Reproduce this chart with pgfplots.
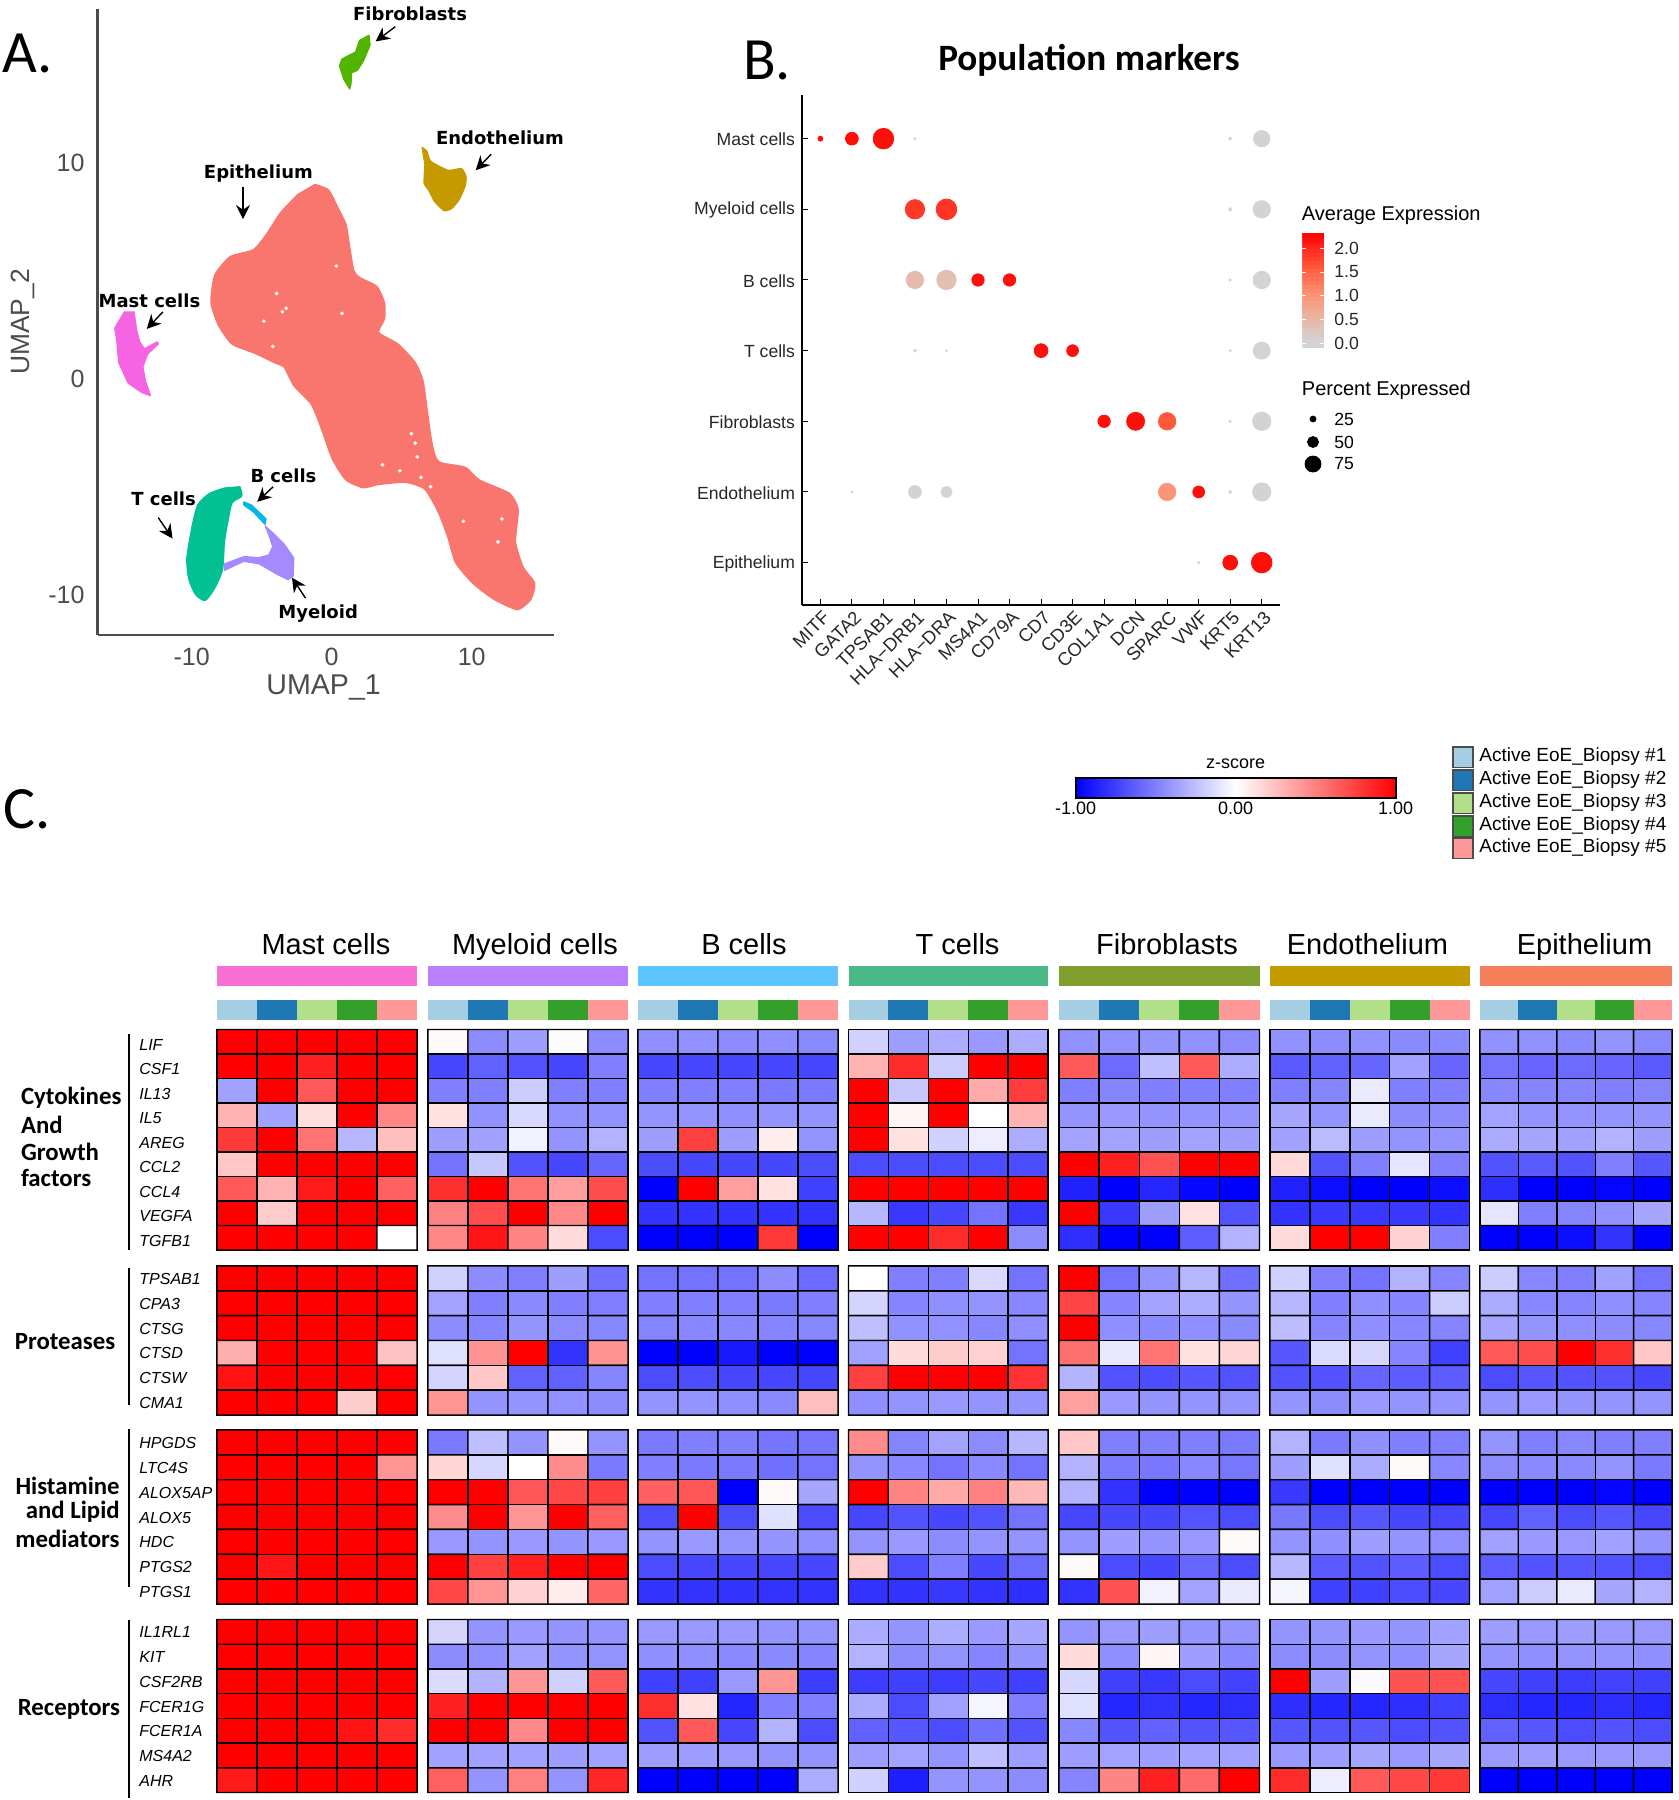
\documentclass[border=0pt]{standalone}
\usepackage{fontspec}
\usepackage{pgfplots}
\usetikzlibrary{arrows.meta}
\pgfplotsset{compat=1.18}
\setmainfont{Liberation Sans}
\newfontfamily\dejav{DejaVu Sans}
\newfontfamily\carl{Carlito}
\newcommand\fs[1]{\fontsize{#1}{#1}\selectfont}

\definecolor{cEpi}{HTML}{F8766D}
\definecolor{cMast}{HTML}{F564E3}
\definecolor{cFib}{HTML}{53B400}
\definecolor{cEnd}{HTML}{C49A00}
\definecolor{cT}{HTML}{00C094}
\definecolor{cB}{HTML}{00B6EB}
\definecolor{cMye}{HTML}{A58AFF}
\definecolor{bMast}{HTML}{F76FD2}
\definecolor{bMye}{HTML}{B880FF}
\definecolor{bB}{HTML}{5CC5FF}
\definecolor{bT}{HTML}{4AB887}
\definecolor{bFib}{HTML}{7F9E2B}
\definecolor{bEnd}{HTML}{C49A00}
\definecolor{bEpi}{HTML}{F47F5A}
\definecolor{s1}{HTML}{A6CEE3}
\definecolor{s2}{HTML}{1F78B4}
\definecolor{s3}{HTML}{B2DF8A}
\definecolor{s4}{HTML}{33A02C}
\definecolor{s5}{HTML}{FF9999}

\pgfplotsset{
  colormap={bwr}{rgb255(0cm)=(0,0,255); rgb255(1cm)=(255,255,255); rgb255(2cm)=(255,0,0)},
  colormap={dots}{rgb255(0cm)=(211,211,211); rgb255(15mm)=(211,211,211); rgb255(60mm)=(232,184,168); rgb255(110mm)=(250,150,120); rgb255(160mm)=(255,100,70); rgb255(242mm)=(255,0,0)},
}

% one heatmap block: x, y, width, height (px of the page), rows, values by row
\newcommand{\hmap}[6]{%
  \pgfmathsetmacro\ylo{0.5-#5}%
  \pgfmathsetmacro\wpt{#3*0.5}%
  \pgfmathsetmacro\hpt{#4*0.5}%
  \begin{axis}[at={(#1*0.5pt,-#2*0.5pt)},anchor=north west,scale only axis,
    width=\wpt pt,height=\hpt pt,xmin=-0.5,xmax=4.5,ymin=\ylo,ymax=0.5,
    ticks=none,clip=false,axis line style={line width=0.9pt},
    colormap name=bwr,point meta min=-1,point meta max=1]
  \addplot[matrix plot*,mesh/cols=5,point meta=explicit,draw=black,line width=0.7pt]
    table[row sep=\\,x expr={\coordindex-5*floor((\coordindex+0.5)/5)},y expr={-floor((\coordindex+0.5)/5)},meta=v]{v\\#6};
  \end{axis}}

% row names next to a block
\newcommand{\genes}[3]{%
  \foreach \g [count=\i from 0] in {#3}{%
    \node[anchor=west,inner sep=0pt,font=\fs{8}\itshape] at (139,#1+\i*#2+#2/2+3) {\g};}}

\begin{document}
\begin{tikzpicture}
\path[use as bounding box] (0,0) rectangle (839pt,-900pt);

% ---------- A: UMAP
\begin{axis}[at={(97.5*0.5pt,-635*0.5pt)},anchor=south west,scale only axis,
  width=228.4pt,height=313pt,
  xmin=-16.72,xmax=15.9,ymin=-11.86,ymax=17.1,
  axis lines*=left,axis line style={draw=black!70,line width=1pt},
  xtick={-10,0,10},ytick={-10,0,10},major tick length=0pt,
  tick label style={font=\fs{12.5},text=black!70},
  xticklabel style={yshift=-3pt},yticklabel style={xshift=-3pt},
  /pgf/number format/assume math mode=true,
  xlabel={UMAP\_1},ylabel={UMAP\_2},
  xlabel style={font=\fs{14.3},text=black!70,at={(rel axis cs:0.495,-0.084)},anchor=center},
  ylabel style={font=\fs{13.2},text=black!70,at={(rel axis cs:-0.163,0.5)},anchor=center,rotate=0},
  clip=false]
\addplot[fill=cEpi,draw=cEpi,line width=0.8pt,line join=round,smooth,tension=0.35] coordinates {
(-1.18,8.98)(-0.22,8.72)(0.47,7.87)(1.02,7.13)(1.29,6.06)(1.57,5.0)(1.98,4.68)(3.22,4.26)(3.77,3.51)(3.77,2.77)
(3.36,2.13)(4.73,1.6)(5.97,0.74)(6.52,-0.11)(6.8,-1.38)(7.07,-2.66)(7.35,-3.51)(7.76,-3.89)(9.55,-4.11)(10.51,-4.68)
(12.71,-5.32)(13.31,-6.06)(13.12,-7.55)(13.67,-8.72)(14.5,-9.47)(14.22,-10.21)(13.26,-10.68)(11.61,-10.21)(10.1,-9.47)(8.86,-8.51)
(8.31,-7.34)(7.62,-6.17)(6.66,-5.11)(5.28,-4.79)(3.36,-4.89)(2.26,-5.04)(1.02,-4.68)(0.06,-3.72)(-0.77,-2.23)(-1.46,-1.17)
(-2.7,-0.32)(-3.38,0.53)(-4.07,0.74)(-5.45,1.17)(-7.1,1.6)(-8.06,2.45)(-8.61,3.51)(-8.34,4.79)(-7.24,5.64)(-5.58,5.96)
(-4.62,6.7)(-3.66,7.66)(-2.42,8.51)} -- cycle;
\addplot[only marks,mark=*,mark size=0.7pt,white,draw=white] coordinates {
(-3.52,3.09)(-3.25,3.26)(-3.93,3.94)(-4.84,2.66)(0.33,5.21)(0.74,3.02)(5.69,-2.55)(5.97,-2.98)(6.11,-3.62)(4.87,-4.26)
(6.38,-4.57)(7.07,-5)(3.63,-3.98)(12.16,-6.49)(11.88,-7.55)(9.41,-6.6)(-4.21,1.49)};
\addplot[fill=cMast,draw=cMast,line width=0.6pt,line join=round] coordinates {
(-14.8,3.09)(-14.11,3.09)(-13.92,2.23)(-13.7,1.7)(-13.37,1.38)(-12.46,1.7)(-12.38,1.6)(-13.15,1.13)(-13.48,0.53)(-13.29,-0.11)
(-12.93,-0.79)(-13.56,-0.64)(-14.53,-0.21)(-15.21,0.74)(-15.35,1.81)(-15.49,2.34)} -- cycle;
\addplot[fill=cFib,draw=cFib,line width=0.6pt,line join=round] coordinates {
(2.67,15.89)(2.75,15.43)(2.26,14.68)(1.84,14.26)(1.43,14.15)(1.38,13.62)(1.29,13.4)(0.88,13.83)(0.55,14.47)(0.74,14.79)(1.71,15.11)(1.98,15.64)} -- cycle;
\addplot[fill=cEnd,draw=cEnd,line width=0.6pt,line join=round,smooth,tension=0.3] coordinates {
(6.46,10.7)(6.8,10.53)(7.07,10.06)(8.31,9.64)(9.27,9.72)(9.6,9.36)(9.55,8.94)(9.13,8.3)(8.58,7.87)(8.03,7.77)(7.35,8.19)(6.93,8.72)(6.6,9.04)(6.66,9.89)} -- cycle;
\addplot[fill=cT,draw=cT,line width=0.6pt,line join=round,smooth,tension=0.4] coordinates {
(-6.55,-5.0)(-6.41,-5.43)(-7.1,-5.74)(-7.37,-6.49)(-7.65,-7.55)(-7.79,-8.83)(-8.34,-9.68)(-9.02,-10.26)(-9.71,-10.0)(-10.21,-9.26)
(-10.34,-8.3)(-9.99,-6.91)(-9.57,-5.85)(-8.75,-5.32)(-7.65,-5.06)} -- cycle;
\addplot[fill=cMye,draw=cMye,line width=0.6pt,line join=round] coordinates {
(-4.76,-6.81)(-4.21,-7.13)(-3.38,-7.66)(-2.7,-8.3)(-2.75,-9.15)(-3.11,-9.3)(-3.93,-9.04)(-5.17,-8.57)(-6.27,-8.45)(-7.65,-8.87)
(-7.65,-8.57)(-6.27,-8.23)(-5.17,-8.28)(-4.48,-8.15)(-4.21,-7.77)(-4.48,-7.23)} -- cycle;
\addplot[fill=cB,draw=cB,line width=0.6pt,line join=round] coordinates {
(-6.27,-5.7)(-5.72,-5.85)(-4.68,-6.49)(-4.76,-6.74)(-5.58,-6.17)(-6.27,-5.85)} -- cycle;
\begin{scope}[font=\dejav\bfseries\fs{9},-{Stealth[length=7pt,width=7pt]},line width=0.7pt]
\node at (axis cs:5.6,16.87) {Fibroblasts};
\draw (axis cs:4.54,16.28) -- (axis cs:3.14,15.6);
\node at (axis cs:12.02,11.13) {Endothelium};
\draw (axis cs:11.39,10.38) -- (axis cs:10.29,9.64);
\node at (axis cs:-5.23,9.51) {Epithelium};
\draw (axis cs:-6.33,8.87) -- (axis cs:-6.33,7.38);
\node at (axis cs:-13.01,3.6) {Mast cells};
\draw (axis cs:-12.05,3.09) -- (axis cs:-13.2,2.3);
\node at (axis cs:-3.44,-4.49) {B cells};
\draw (axis cs:-4.18,-5) -- (axis cs:-5.31,-5.7);
\node at (axis cs:-12,-5.55) {T cells};
\draw (axis cs:-12.38,-6.43) -- (axis cs:-11.36,-7.4);
\node at (axis cs:-0.96,-10.89) {Myeloid};
\draw (axis cs:-1.87,-10.15) -- (axis cs:-2.83,-9.21);
\end{scope}
\end{axis}

% ---------- B: dot plot
\begin{axis}[at={(802*0.5pt,-605*0.5pt)},anchor=south west,scale only axis,
  width=239pt,height=255pt,
  xmin=-0.583,xmax=14.58,ymin=-0.6,ymax=6.618,
  axis lines*=left,axis line style={draw=black,line width=0.7pt},
  xtick={0,...,14},ytick={0,...,6},major tick length=3pt,
  tick style={draw=black,line width=0.5pt},
  xticklabels={MITF,GATA2,TPSAB1,HLA−DRB1,HLA−DRA,MS4A1,CD79A,CD7,CD3E,COL1A1,DCN,SPARC,VWF,KRT5,KRT13},
  yticklabels={Epithelium,Endothelium,Fibroblasts,T cells,B cells,Myeloid cells,Mast cells},
  tick label style={font=\fs{8.8},text=black!85},
  yticklabel style={yshift=-0.5pt},
  xticklabel style={font=\fs{9.2},rotate=45,anchor=north east,inner sep=1pt,yshift=-1pt},
  colormap name=dots,point meta min=-0.1,point meta max=2.32,
  colorbar sampled,
  colorbar style={samples=30,at={(parent axis.north east)},anchor=north west,
    xshift=2.7pt,yshift=-69pt,width=10.9pt,height=57.4pt,
    ytick={0,0.5,1,1.5,2},
    yticklabel style={font=\fs{8.8},xshift=1.5pt,/pgf/number format/fixed,/pgf/number format/fixed zerofill,/pgf/number format/precision=1,/pgf/number format/assume math mode=true},
    yticklabel pos=right,axis line style={draw=none},
    major tick length=2pt,tick style={draw=white,line width=0.4pt}},
  /pgf/number format/assume math mode=true,
  clip=false]
\addplot[scatter,only marks,mark=*,point meta=\thisrow{avg},
  visualization depends on={0.05*\thisrow{pct}+0.25 \as \rad},
  scatter/use mapped color={draw=mapped color,fill=mapped color},
  scatter/@pre marker code/.append style={/tikz/mark size=\rad}] table {
x y pct avg
0 6 20 2.2
1 6 59 2.2
2 6 98 2.2
3 6 5 0
13 6 10 0
14 6 77 0
3 5 92 1.85
4 5 98 1.9
13 5 13 0
14 5 82 0
3 4 82 0.45
4 4 92 0.4
5 4 57 2.2
6 4 57 2.2
13 4 5 0
14 4 82 0
3 3 10 0
4 3 5 0
7 3 64 2.2
8 3 54 2.2
13 3 5 0
14 3 80 0
9 2 57 2.2
10 2 85 2.2
11 2 82 1.6
13 2 5 0
14 2 87 0
1 1 5 0
3 1 59 0
4 1 51 0
11 1 82 1.0
12 1 54 2.2
13 1 10 0
14 1 87 0
12 0 5 0
13 0 69 2.2
14 0 98 2.2
};
\end{axis}

% size legend of B
\begin{axis}[at={(1300*0.5pt,-410*0.5pt)},anchor=north west,scale only axis,
  width=13pt,height=32.5pt,xmin=-1,xmax=1,ymin=-475,ymax=-410,hide axis,clip=false]
\addplot[only marks,mark=*,black,
  visualization depends on={0.05*\thisrow{pct}+0.25 \as \rad},
  scatter,scatter/use mapped color={draw=black,fill=black},
  scatter/@pre marker code/.append style={/tikz/mark size=\rad}] table {
x y pct
0 -419 25
0 -442 50
0 -464 75
};
\end{axis}

% ---------- C: z-score bar
\begin{axis}[at={(1075.7*0.5pt,-778*0.5pt)},anchor=north west,scale only axis,
  width=160pt,height=9.85pt,xmin=-1,xmax=1,ymin=0,ymax=1,
  xtick={-1,0,1},xticklabels={-1.00,0.00,1.00},ytick=\empty,major tick length=0pt,
  tick label style={font=\fs{9},inner sep=1pt,yshift=-1pt},axis on top,
  axis line style={line width=0.9pt},
  /pgf/number format/assume math mode=true,
  title={z-score},title style={font=\fs{9},yshift=-5pt}]
\shade[left color=blue,right color=white] (axis cs:-1,0) rectangle (axis cs:0,1);
\shade[left color=white,right color=red] (axis cs:0,0) rectangle (axis cs:1,1);
\end{axis}

% ---------- C: heatmaps, block 1
\hmap{217}{1029.5}{200}{220.5}{9}{
1\\1\\1\\1\\1\\ 1\\1\\.87\\1\\1\\ -.37\\1\\.65\\1\\1\\ .3\\-.37\\.13\\1\\.47\\ .78\\1\\.55\\-.28\\.25\\
.22\\1\\1\\1\\1\\ .65\\.3\\.9\\1\\.62\\ 1\\.2\\1\\1\\1\\ 1\\1\\1\\1\\0\\}
\hmap{428}{1029.5}{200}{220.5}{9}{
.02\\-.45\\-.38\\-.01\\-.45\\ -.72\\-.62\\-.68\\-.72\\-.5\\ -.5\\-.5\\-.2\\-.5\\-.5\\ .12\\-.43\\-.15\\-.43\\-.43\\ -.38\\-.37\\-.05\\-.42\\-.3\\
-.55\\-.22\\-.68\\-.72\\-.6\\ .82\\1\\.55\\.38\\.7\\ .5\\.7\\1\\.47\\1\\ .47\\.92\\.48\\.14\\-.7\\}
\hmap{638}{1029.5}{200}{220.5}{9}{
-.44\\-.43\\-.45\\-.44\\-.46\\ -.72\\-.72\\-.72\\-.72\\-.72\\ -.5\\-.5\\-.5\\-.52\\-.52\\ -.42\\-.42\\-.44\\-.42\\-.42\\ -.38\\.75\\-.38\\.07\\-.42\\
-.7\\-.72\\-.72\\-.72\\-.7\\ -1\\1\\.38\\.12\\-.75\\ -.8\\-.8\\-.8\\-.8\\-.8\\ -1\\-1\\-1\\.78\\-1\\}
\hmap{848.5}{1029.5}{199.5}{220.5}{9}{
-.18\\-.38\\-.32\\-.4\\-.32\\ .3\\.83\\-.2\\1\\1\\ 1\\-.22\\1\\.33\\.76\\ 1\\.04\\1\\0\\.3\\ 1\\.12\\-.18\\-.07\\-.32\\
-.7\\-.7\\-.7\\-.7\\-.7\\ 1\\1\\1\\1\\1\\ -.28\\-.78\\-.72\\-.55\\-.78\\ 1\\1\\.83\\1\\-.45\\}
\hmap{1059}{1029.5}{200.5}{220.5}{9}{
-.43\\-.43\\-.42\\-.43\\-.45\\ .65\\-.58\\-.25\\.65\\-.32\\ -.5\\-.48\\-.5\\-.5\\-.5\\ -.42\\-.4\\-.42\\-.42\\-.42\\ -.36\\-.36\\-.38\\-.36\\-.38\\
1\\.87\\.68\\1\\1\\ -.87\\-1\\-.85\\-.97\\-1\\ 1\\-.78\\-.38\\.12\\-.68\\ -.82\\-1\\-1\\-.63\\-.3\\}
\hmap{1270}{1029.5}{199.5}{220.5}{9}{
-.43\\-.45\\-.43\\-.46\\-.46\\ -.65\\-.62\\-.6\\-.37\\-.6\\ -.5\\-.48\\-.08\\-.5\\-.5\\ -.35\\-.42\\-.08\\-.45\\-.45\\ -.37\\-.27\\-.38\\-.42\\-.42\\
.15\\-.68\\-.5\\-.1\\-.5\\ -.87\\-.95\\-1\\-1\\-.95\\ -.8\\-.78\\-.78\\-.78\\-.8\\ .14\\1\\1\\.18\\-.5\\}
\hmap{1480}{1029.5}{192}{220.5}{9}{
-.43\\-.43\\-.46\\-.42\\-.46\\ -.55\\-.6\\-.58\\-.6\\-.65\\ -.47\\-.48\\-.48\\-.5\\-.48\\ -.36\\-.42\\-.42\\-.42\\-.42\\ -.33\\-.35\\-.37\\-.3\\-.38\\
-.68\\-.65\\-.68\\-.5\\-.66\\ -.82\\-1\\-1\\-.98\\-1\\ -.1\\-.5\\-.48\\-.43\\-.35\\ -1\\-1\\-.95\\-.8\\-1\\}

% block 2
\hmap{217}{1266}{200}{149}{6}{
1\\1\\1\\1\\1\\ 1\\1\\1\\1\\1\\ 1\\1\\1\\1\\1\\ .32\\1\\1\\1\\.24\\ .93\\1\\1\\1\\1\\ 1\\1\\1\\.2\\1\\}
\hmap{428}{1266}{200}{149}{6}{
-.18\\-.45\\-.5\\-.38\\-.56\\ -.36\\-.5\\-.46\\-.5\\-.5\\ -.45\\-.48\\-.42\\-.45\\-.47\\ -.12\\.43\\1\\-.8\\.43\\ -.17\\.22\\-.62\\-.62\\-.48\\ .42\\-.42\\-.42\\-.43\\-.45\\}
\hmap{638}{1266}{200}{149}{6}{
-.55\\-.55\\-.55\\-.45\\-.58\\ -.5\\-.5\\-.5\\-.52\\-.5\\ -.48\\-.47\\-.47\\-.48\\-.47\\ -1\\-1\\-.9\\-1\\-1\\ -.7\\-.7\\-.72\\-.72\\-.72\\ -.42\\-.42\\-.44\\-.46\\.25\\}
\hmap{848.5}{1266}{199.5}{149}{6}{
0\\-.5\\-.5\\-.15\\-.55\\ -.17\\-.48\\-.44\\-.42\\-.47\\ -.25\\-.43\\-.43\\-.47\\-.44\\ -.37\\.14\\.2\\.18\\-.55\\ .75\\1\\1\\1\\.8\\ -.44\\-.42\\-.4\\-.42\\-.42\\}
\hmap{1059}{1266}{200.5}{149}{6}{
1\\-.55\\-.42\\-.28\\-.56\\ .73\\-.48\\-.36\\-.32\\-.42\\ 1\\-.44\\-.46\\-.44\\-.46\\ .56\\-.09\\.55\\.12\\.16\\ -.3\\-.68\\-.7\\-.66\\-.68\\ .37\\-.4\\-.42\\-.42\\-.42\\}
\hmap{1270}{1266}{199.5}{149}{6}{
-.18\\-.5\\-.55\\-.3\\-.48\\ -.28\\-.5\\-.44\\-.48\\-.2\\ -.26\\-.48\\-.44\\-.47\\-.48\\ -.66\\-.14\\-.16\\-.48\\-.75\\ -.68\\-.68\\-.6\\-.64\\-.64\\ -.42\\-.45\\-.4\\-.42\\-.42\\}
\hmap{1480}{1266}{192}{149}{6}{
-.2\\-.47\\-.5\\-.37\\-.55\\ -.33\\-.47\\-.48\\-.44\\-.48\\ -.35\\-.42\\-.44\\-.45\\-.47\\ .65\\.7\\1\\.82\\.22\\ -.7\\-.66\\-.68\\-.68\\-.72\\ -.42\\-.4\\-.42\\-.42\\-.42\\}

% block 3
\hmap{217}{1430}{200}{174}{7}{
1\\1\\1\\1\\1\\ 1\\1\\1\\1\\.42\\ 1\\1\\1\\1\\1\\ 1\\1\\1\\1\\1\\ 1\\1\\1\\1\\1\\ 1\\.92\\1\\1\\1\\ 1\\1\\1\\1\\1\\}
\hmap{428}{1430}{200}{174}{7}{
-.52\\-.25\\-.42\\.02\\-.42\\ .16\\-.16\\0\\.45\\-.52\\ 1\\1\\.66\\.72\\.75\\ .45\\1\\.42\\1\\.62\\ -.4\\-.42\\-.4\\-.42\\-.4\\ 1\\.75\\.88\\1\\1\\ .72\\.42\\.18\\.08\\.6\\}
\hmap{638}{1430}{200}{174}{7}{
-.52\\-.5\\-.5\\-.54\\-.54\\ -.5\\-.52\\-.52\\-.56\\-.55\\ .62\\.66\\-1\\.02\\-.35\\ -.7\\1\\-.7\\-.12\\-.7\\ -.42\\-.4\\-.42\\-.42\\-.44\\ -.7\\-.72\\-.72\\-.72\\-.72\\ -.8\\-.8\\-.8\\-.8\\-.8\\}
\hmap{848.5}{1430}{199.5}{174}{7}{
.45\\-.48\\-.36\\-.45\\-.28\\ -.42\\-.47\\-.55\\-.46\\-.55\\ 1\\.48\\.34\\.5\\.28\\ -.72\\-.68\\-.72\\-.68\\-.55\\ -.42\\-.4\\-.45\\-.42\\-.42\\ .2\\-.7\\-.5\\-.72\\-.58\\ -.8\\-.8\\-.78\\-.8\\-.82\\}
\hmap{1059}{1430}{200.5}{174}{7}{
.22\\-.5\\-.5\\-.5\\-.52\\ -.3\\-.52\\-.53\\-.47\\-.53\\ -.3\\-.8\\-1\\-1\\-1\\ -.72\\-.72\\-.72\\-.67\\-.7\\ -.42\\-.38\\-.42\\-.4\\.02\\ .02\\-.7\\-.72\\-.6\\-.7\\ -.8\\.68\\-.05\\-.36\\-.08\\}
\hmap{1270}{1430}{199.5}{174}{7}{
-.3\\-.52\\-.44\\-.5\\-.5\\ -.38\\-.12\\-.33\\.02\\-.47\\ -.78\\-1\\-1\\-1\\-1\\ -.53\\-.7\\-.66\\-.72\\-.72\\ -.42\\-.44\\-.38\\-.42\\-.44\\ -.28\\-.65\\-.68\\-.64\\-.7\\ -.04\\-.75\\-.75\\-.7\\-.72\\}
\hmap{1480}{1430}{192}{174}{7}{
-.42\\-.5\\-.47\\-.5\\-.5\\ -.45\\-.46\\-.46\\-.42\\-.52\\ -1\\-1\\-1\\-.98\\-1\\ -.72\\-.62\\-.7\\-.66\\-.72\\ -.37\\-.4\\-.4\\-.37\\-.42\\ -.64\\-.68\\-.66\\-.68\\-.7\\ -.37\\-.2\\-.08\\-.35\\-.3\\}

% block 4
\hmap{217}{1619.5}{200}{173}{7}{
1\\1\\1\\1\\1\\ 1\\1\\1\\1\\1\\ 1\\1\\1\\1\\1\\ 1\\1\\1\\1\\1\\ 1\\1\\1\\.93\\.83\\ 1\\1\\1\\1\\1\\ .9\\1\\1\\1\\1\\}
\hmap{428}{1619.5}{200}{173}{7}{
-.17\\-.42\\-.4\\-.42\\-.42\\ -.45\\-.44\\-.37\\-.42\\-.42\\ -.14\\-.3\\.42\\-.18\\.65\\ .87\\1\\1\\1\\1\\ 1\\1\\.47\\1\\1\\ -.37\\-.37\\-.37\\-.38\\-.37\\ .62\\-.42\\.5\\-.42\\.85\\}
\hmap{638}{1619.5}{200}{173}{7}{
-.4\\-.4\\-.4\\-.42\\-.42\\ -.44\\-.44\\-.46\\-.46\\-.48\\ -.75\\-.75\\-.4\\.42\\-.76\\ .82\\.12\\-.86\\-.5\\-.5\\ -.68\\.65\\-.72\\-.3\\-.7\\ -.38\\-.38\\-.4\\-.42\\-.42\\ -1\\-1\\-1\\-1\\-.32\\}
\hmap{848.5}{1619.5}{199.5}{173}{7}{
-.33\\-.42\\-.32\\-.4\\-.35\\ -.3\\-.45\\-.42\\-.48\\-.42\\ -.76\\-.75\\-.76\\-.72\\-.75\\ -.33\\-.7\\-.37\\-.04\\-.5\\ -.62\\-.66\\-.7\\-.56\\-.68\\ -.38\\-.36\\-.42\\-.25\\-.38\\ -.18\\-.88\\-.42\\-.42\\-.45\\}
\hmap{1059}{1619.5}{200.5}{173}{7}{
-.42\\-.4\\-.38\\-.42\\-.42\\ .14\\-.44\\.04\\-.38\\-.47\\ -.16\\-.75\\-.78\\-.7\\-.74\\ -.12\\-.85\\-.8\\-.85\\-.82\\ -.47\\-.68\\-.62\\-.68\\-.66\\ -.38\\-.36\\-.38\\-.36\\-.37\\ -.48\\.48\\.87\\.58\\1\\}
\hmap{1270}{1619.5}{199.5}{173}{7}{
-.42\\-.42\\-.4\\-.42\\-.37\\ -.45\\-.45\\-.42\\-.44\\-.35\\ 1\\-.38\\-.02\\.68\\.68\\ -.82\\-.85\\-.85\\-.82\\-.75\\ -.66\\-.68\\-.66\\-.7\\-.68\\ -.4\\-.38\\-.35\\-.4\\-.35\\ .83\\-.07\\.65\\.72\\.78\\}
\hmap{1480}{1619.5}{192}{173}{7}{
-.38\\-.4\\-.38\\-.4\\-.4\\ -.42\\-.44\\-.42\\-.42\\-.44\\ -.72\\-.75\\-.76\\-.74\\-.75\\ -.82\\-.85\\-.85\\-.82\\-.85\\ -.62\\-.66\\-.7\\-.68\\-.7\\ -.4\\-.38\\-.4\\-.4\\-.4\\ -1\\-1\\-1\\-1\\-1\\}

% ---------- text and annotation bars, in page pixels
\begin{scope}[x=0.5pt,y=-0.5pt]
\node[font=\carl\fs{30}] at (28,53) {A.};
\node[font=\carl\fs{30}] at (767,60) {B.};
\node[font=\carl\fs{30}] at (27,809) {C.};
\node[font=\carl\bfseries\fs{18.6}] at (1089,60) {Population markers};
\node[anchor=west,inner sep=0pt,font=\fs{10}] at (1301.5,215.5) {Average Expression};
\node[anchor=west,inner sep=0pt,font=\fs{10}] at (1301.5,390) {Percent Expressed};
\foreach \t/\y in {25/419,50/442,75/464}
  \node[anchor=west,inner sep=0pt,font=\fs{8.8}] at (1334,\y) {\t};

% sample legend
\foreach \c/\y/\n in {s1/747/1,s2/770/2,s3/793/3,s4/816/4,s5/838/5}{
  \draw[fill=\c,draw=black!70,line width=0.6pt] (1453,\y) rectangle (1473,\y+20.5);
  \node[anchor=west,inner sep=0pt,font=\fs{9.5}] at (1479,\y+10) {Active EoE\_Biopsy \#\n};}

% panel headings and colour strips
\foreach \cc/\x/\w/\tx/\name in {bMast/217/200/326/Mast cells,bMye/428/200/535/Myeloid cells,bB/638/200/744/B cells,bT/848.5/199.5/957.6/T cells,bFib/1059/200.5/1167/Fibroblasts,bEnd/1270/199.5/1367.5/Endothelium,bEpi/1480/192/1584.5/Epithelium}{
  \node[anchor=base,inner sep=0pt,font=\fs{14.5}] at (\tx,954) {\name};
  \fill[\cc] (\x,966) rectangle ++(\w,20);
  \foreach \c [count=\k from 0] in {s1,s2,s3,s4,s5}
    \fill[\c] (\x+\k*\w/5,1000) rectangle ++(\w/5,20);}

% group bars and names
\draw[line width=1.1pt] (129,1034) -- (129,1250);
\draw[line width=1.1pt] (129,1268) -- (129,1405);
\draw[line width=1.1pt] (129,1429) -- (129,1587);
\draw[line width=1.1pt] (129,1619.5) -- (129,1798);
\begin{scope}[font=\carl\bfseries\fs{12.4},inner sep=0pt]
\node[anchor=west] at (20.6,1098) {Cytokines};
\node[anchor=west] at (20.6,1125) {And};
\node[anchor=west] at (20.6,1152) {Growth};
\node[anchor=west] at (20.6,1178) {factors};
\node at (65,1342) {Proteases};
\node[anchor=east] at (120,1485.5) {Histamine};
\node[anchor=east] at (120,1512) {and Lipid};
\node[anchor=east] at (120,1539) {mediators};
\node at (69,1709) {Receptors};
\end{scope}
\genes{1029.5}{24.5}{LIF,CSF1,IL13,IL5,AREG,CCL2,CCL4,VEGFA,TGFB1}
\genes{1263.5}{24.83}{TPSAB1,CPA3,CTSG,CTSD,CTSW,CMA1}
\genes{1427.5}{24.86}{HPGDS,LTC4S,ALOX5AP,ALOX5,HDC,PTGS2,PTGS1}
\genes{1617}{24.71}{IL1RL1,KIT,CSF2RB,FCER1G,FCER1A,MS4A2,AHR}
\end{scope}
\end{tikzpicture}
\end{document}
